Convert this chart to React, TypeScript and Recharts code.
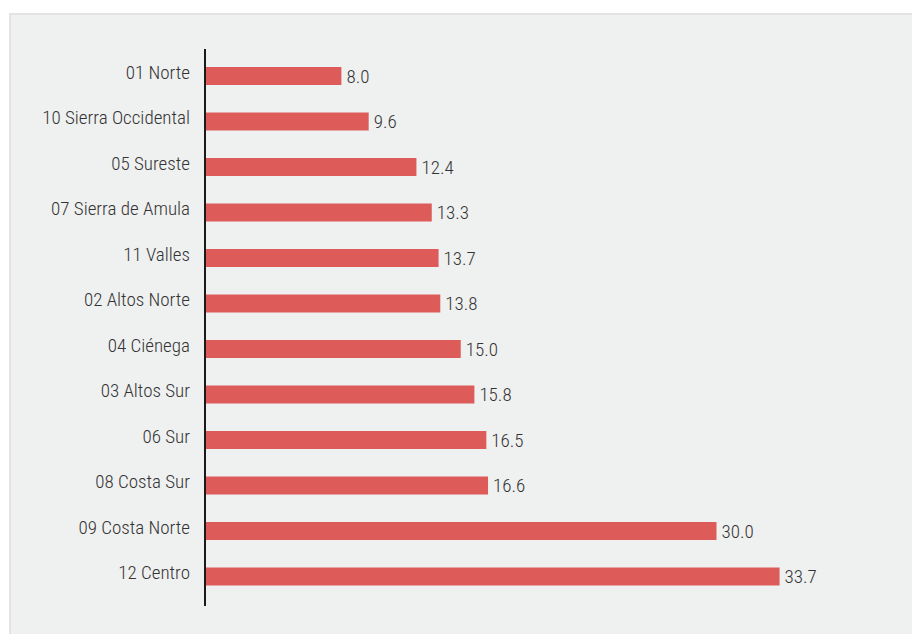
import React from "react";
import { BarChart, Bar, XAxis, YAxis, LabelList } from "recharts";

const regions = [
  "01 Norte",
  "10 Sierra Occidental",
  "05 Sureste",
  "07 Sierra de Amula",
  "11 Valles",
  "02 Altos Norte",
  "04 Ciénega",
  "03 Altos Sur",
  "06 Sur",
  "08 Costa Sur",
  "09 Costa Norte",
  "12 Centro",
];
const values = [8.0, 9.6, 12.4, 13.3, 13.7, 13.8, 15.0, 15.8, 16.5, 16.6, 30.0, 33.7];

const data = regions.map((name, i) => ({ name, value: values[i] }));

const FONT = "'Roboto Condensed', 'Liberation Sans Narrow', Roboto, sans-serif";

const Tick = (props: any) => {
  const { x, y, payload } = props;
  return (
    <text x={x} y={y} dy={3} textAnchor="end" fill="#333" fontSize={19} fontWeight={300} fontFamily={FONT}>
      {payload.value}
    </text>
  );
};

export default function App() {
  return (
    <div
      style={{
        position: "fixed",
        left: 0,
        top: 0,
        width: 912,
        height: 634,
        overflow: "hidden",
        background: "#ffffff",
      }}
    >
      <div
        style={{
          position: "absolute",
          left: 9,
          top: 13,
          width: 960,
          height: 700,
          background: "#eff0f0",
          borderTop: "2px solid #e3e3e3",
          borderLeft: "2px solid #e3e3e3",
        }}
      />
      <div style={{ position: "absolute", left: 0, top: 0 }}>
        <BarChart
          width={912}
          height={634}
          data={data}
          layout="vertical"
          margin={{ top: 49, right: 25, bottom: 28, left: 0 }}
        >
          <XAxis type="number" domain={[0, 40]} hide />
          <YAxis
            type="category"
            dataKey="name"
            width={205}
            axisLine={{ stroke: "#1a1a1a", strokeWidth: 2 }}
            tickLine={false}
            tickSize={6}
            tickMargin={9}
            padding={{ top: 4, bottom: 7 }}
            tick={<Tick />}
            interval={0}
          />
          <Bar dataKey="value" fill="#dd5c5a" barSize={18} isAnimationActive={false}>
            <LabelList
              dataKey="value"
              position="right"
              offset={5}
              formatter={(v: any) => Number(v).toFixed(1)}
              fill="#333"
              fontSize={19}
              fontWeight={300}
              fontFamily={FONT}
            />
          </Bar>
        </BarChart>
      </div>
    </div>
  );
}
